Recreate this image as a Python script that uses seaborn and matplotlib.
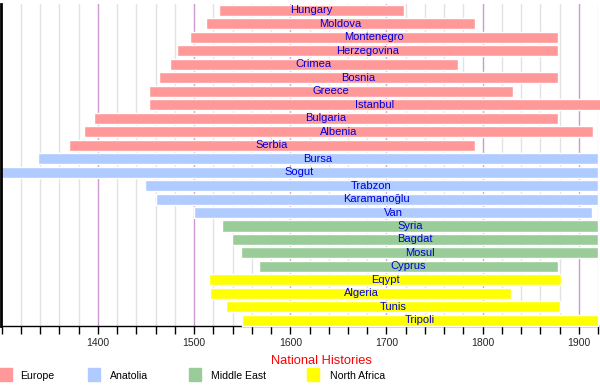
import seaborn as sns
import matplotlib.pyplot as plt
from matplotlib.ticker import MultipleLocator

# timeline rows, top to bottom
NAMES = ['Hungary', 'Moldova', 'Montenegro', 'Herzegovina', 'Crimea', 'Bosnia',
         'Greece', 'Istanbul', 'Bulgaria', 'Albenia', 'Serbia',
         'Bursa', 'Sogut', 'Trabzon', 'Karamanoğlu', 'Van',
         'Syria', 'Bagdat', 'Mosul', 'Cyprus',
         'Eqypt', 'Algeria', 'Tunis', 'Tripoli']
START = [1526, 1512, 1496, 1482, 1475, 1463,
         1453, 1453, 1396, 1385, 1370,
         1338, 1299, 1449, 1460, 1500,
         1529, 1539, 1549, 1568,
         1516, 1517, 1533, 1550]
END = [1718, 1792, 1878, 1878, 1774, 1878,
       1832, 1923, 1878, 1915, 1792,
       1920, 1920, 1920, 1920, 1914,
       1920, 1920, 1920, 1878,
       1882, 1830, 1881, 1920]
REGION = (['Europe'] * 11 + ['Anatolia'] * 5 + ['Middle East'] * 4 + ['North Africa'] * 4)

REGION_COLORS = {
    'Europe': '#ff9999',
    'Anatolia': '#b0cbff',
    'Middle East': '#99cc99',
    'North Africa': '#ffff00',
}

sns.set_style("white")
plt.rcParams['font.family'] = ['Liberation Sans', 'DejaVu Sans']

fig = plt.figure(figsize=(6, 3.86), dpi=100)
ax = fig.add_axes([1 / 600, 1 - 326 / 386, 597 / 600, 322 / 386])

rows = list(range(len(NAMES)))
ax.barh(rows, [e - s for s, e in zip(START, END)], left=START, height=0.82,
        color=[REGION_COLORS[r] for r in REGION], zorder=3, clip_on=False)

for y, s, e, name in zip(rows, START, END, NAMES):
    ax.text((s + e) / 2, y, name, ha='center', va='center', color='#0000dd',
            fontsize=8, zorder=4)

ax.set_xlim(1299.2, 1920)
ax.set_ylim(23.42, -0.47)

ax.xaxis.set_minor_locator(MultipleLocator(20))
ax.set_xticks([1400, 1500, 1600, 1700, 1800, 1900])
ax.tick_params(axis='x', which='both', direction='out', length=6, width=1,
               color='black', bottom=True, labelsize=7.5, pad=3)
ax.set_yticks([])

ax.grid(False)
for x in range(1320, 1921, 20):
    if x % 100 == 0:
        ax.axvline(x, color='#cc99cc', lw=1, zorder=1)
    else:
        ax.axvline(x, color='#e2e2e2', lw=1, zorder=1)

for side in ['top', 'right']:
    ax.spines[side].set_visible(False)
ax.spines['left'].set_color('black')
ax.spines['left'].set_linewidth(2)
ax.spines['left'].set_zorder(5)
ax.spines['bottom'].set_color('black')
ax.spines['bottom'].set_linewidth(1)

fig.text(321 / 600, 1 - 361 / 386, 'National Histories', color='red',
         fontsize=9.3, ha='center', va='center')

# legend row along the bottom
legend_pos = [(0, 20), (88, 110), (189, 211), (307, 330)]
for (sx, tx), region in zip(legend_pos, REGION_COLORS):
    fig.patches.append(plt.Rectangle((sx / 600, 1 - 381 / 386), 12 / 600, 13 / 386,
                                     transform=fig.transFigure, figure=fig,
                                     color=REGION_COLORS[region]))
    fig.text(tx / 600, 1 - 376 / 386, region, fontsize=7.6,
             ha='left', va='center', color='black')

fig.savefig('out.png', dpi=100)
